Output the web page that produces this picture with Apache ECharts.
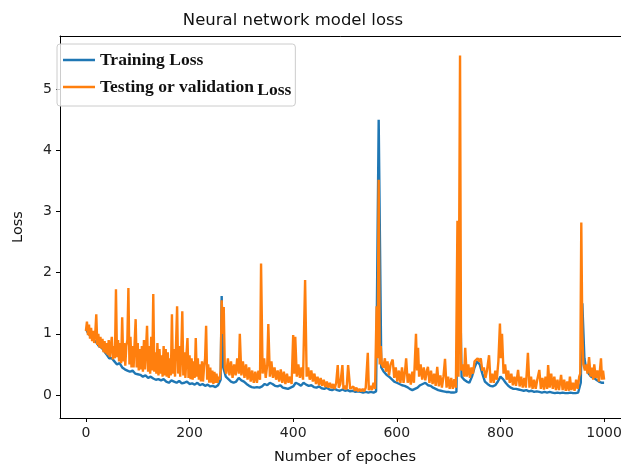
<!DOCTYPE html>
<html>
<head>
<meta charset="utf-8">
<script src="https://cdn.jsdelivr.net/npm/echarts@6/dist/echarts.min.js"></script>
<style>
html,body{margin:0;padding:0;background:#fff;}
#chart{width:621px;height:468px;}
</style>
</head>
<body>
<div id="chart"></div>
<script>
// ---- data ----
const titleText = "Neural network model loss";
const xLabel = "Number of epoches";
const yLabel = "Loss";
const seriesNames = ["Training Loss", "Testing or validation Loss"];

const trainEpochs = [0,5,10,15,20,25,30,35,40,45,50,55,60,65,70,75,80,85,90,95,100,105,110,115,120,125,130,135,140,145,150,155,160,165,170,175,180,185,190,195,200,205,210,215,220,225,230,235,240,245,250,255,260,262,265,270,275,280,285,290,295,300,305,310,315,320,325,330,335,340,345,350,355,360,365,370,375,380,385,390,395,400,405,410,415,420,425,430,435,440,445,450,455,460,465,470,475,480,485,490,495,500,505,510,515,520,525,530,535,540,545,550,555,560,565,570,575,580,585,590,595,600,605,610,615,620,625,630,635,640,645,650,655,660,665,670,675,680,685,690,695,700,705,710,715,720,725,730,735,740,745,750,755,760,765,770,775,780,785,790,795,800,805,810,815,820,825,830,835,840,845,850,855,860,865,870,875,880,885,890,895,900,905,910,915,920,925,930,935,940,945,950,955,958,962,965,970,975,980,985,990,995,1000];
const trainLoss = [1.08,1.0,0.95,0.9,0.86,0.8,0.78,0.72,0.66,0.6,0.6,0.55,0.5,0.52,0.45,0.42,0.4,0.38,0.4,0.35,0.34,0.33,0.3,0.32,0.28,0.3,0.27,0.25,0.26,0.24,0.26,0.22,0.2,0.24,0.22,0.2,0.23,0.19,0.2,0.22,0.18,0.19,0.17,0.2,0.16,0.18,0.15,0.17,0.14,0.15,0.13,0.16,0.25,1.62,0.45,0.3,0.26,0.22,0.2,0.22,0.28,0.24,0.22,0.18,0.15,0.13,0.12,0.13,0.12,0.14,0.18,0.16,0.2,0.18,0.15,0.14,0.16,0.12,0.11,0.1,0.12,0.14,0.2,0.18,0.15,0.2,0.17,0.15,0.16,0.13,0.12,0.14,0.11,0.1,0.12,0.09,0.08,0.1,0.08,0.07,0.09,0.07,0.08,0.06,0.07,0.05,0.06,0.05,0.04,0.05,0.04,0.05,0.04,0.06,4.5,0.45,0.38,0.33,0.3,0.26,0.22,0.2,0.18,0.16,0.15,0.13,0.1,0.08,0.1,0.12,0.16,0.18,0.2,0.16,0.15,0.12,0.1,0.08,0.07,0.06,0.05,0.05,0.04,0.04,0.05,2.8,0.3,0.25,0.22,0.2,0.3,0.45,0.55,0.5,0.35,0.22,0.18,0.15,0.14,0.16,0.22,0.3,0.26,0.2,0.15,0.12,0.1,0.1,0.09,0.08,0.07,0.08,0.06,0.07,0.05,0.06,0.05,0.04,0.05,0.04,0.05,0.04,0.03,0.04,0.03,0.04,0.03,0.03,0.04,0.03,0.03,0.04,0.2,1.5,0.6,0.45,0.35,0.3,0.28,0.25,0.22,0.2,0.2];

// validation loss, early part (epochs 0..262, every 2 epochs)
const valEpochsEarly = [0,2,4,6,8,10,12,14,16,18,20,22,24,26,28,30,32,34,36,38,40,42,44,46,48,50,52,54,56,58,60,62,64,66,68,70,72,74,76,78,80,82,84,86,88,90,92,94,96,98,100,102,104,106,108,110,112,114,116,118,120,122,124,126,128,130,132,134,136,138,140,142,144,146,148,150,152,154,156,158,160,162,164,166,168,170,172,174,176,178,180,182,184,186,188,190,192,194,196,198,200,202,204,206,208,210,212,214,216,218,220,222,224,226,228,230,232,234,236,238,240,242,244,246,248,250,252,254,256,258,260,262];
const valLossEarly = [1.05,1.2,0.98,1.15,0.92,1.1,0.88,1.05,0.85,1.0,1.32,0.82,1.0,0.78,0.95,0.76,0.92,0.7,0.88,0.68,0.85,0.65,0.9,0.62,0.8,0.95,0.58,0.8,0.6,1.73,0.62,0.9,0.55,0.85,0.52,1.27,0.55,0.85,0.48,0.8,0.9,1.75,0.5,0.95,0.45,0.8,0.45,0.85,1.24,0.45,0.85,0.4,0.75,0.42,0.8,0.38,0.9,0.42,0.75,1.13,0.38,0.8,0.35,0.95,0.4,1.65,0.38,0.7,0.35,0.85,0.32,0.75,0.35,0.65,0.3,0.8,0.32,0.75,0.3,0.7,0.28,0.6,0.32,1.32,0.35,0.75,0.3,0.85,1.45,0.35,0.8,0.3,0.7,1.37,0.32,0.7,0.28,0.65,0.93,0.28,0.65,0.26,0.6,0.25,0.55,0.28,0.93,0.3,0.6,0.25,0.5,0.22,0.55,0.22,0.45,0.6,1.13,0.25,0.5,0.2,0.45,0.2,0.4,0.18,0.38,0.2,0.35,0.2,0.3,0.25,0.4,1.55];
// validation loss, later part (epochs 264..1000)
const valEpochsLate = [264,266,268,271,274,277,280,283,286,289,292,295,297,300,303,306,309,312,315,318,321,324,327,330,333,336,338,341,344,347,350,352,355,358,361,364,367,370,373,376,379,382,385,388,391,394,397,400,402,404,407,410,413,416,419,423,426,429,432,435,438,441,444,447,450,453,456,459,462,465,468,471,474,477,480,483,486,488,491,495,497,500,503,506,508,510,513,516,519,522,525,528,531,534,537,540,544,546,549,552,555,558,561,563,565,567,569,571,574,577,579,582,585,588,592,595,598,601,604,607,610,613,616,618,621,624,627,630,633,637,639,641,643,646,649,652,655,658,660,663,666,669,672,675,678,681,684,687,690,693,696,699,702,705,708,711,714,717,719,722,724,727,730,732,735,738,741,744,747,750,753,756,759,762,765,768,771,774,778,781,784,787,790,793,796,799,801,803,806,809,812,815,818,821,824,827,830,834,837,840,843,846,849,853,856,859,862,865,868,871,875,878,881,884,887,890,892,895,898,901,904,907,910,913,917,920,923,926,929,932,934,937,940,943,946,949,952,954,956,958,960,963,966,968,971,974,977,979,981,984,987,990,994,996,998,1000];
const valLossLate = [1.0,1.44,0.45,0.35,0.6,0.32,0.55,0.28,0.5,0.32,0.6,0.35,1.0,0.32,0.55,0.28,0.5,0.25,0.45,0.22,0.4,0.2,0.38,0.2,0.4,0.25,2.15,0.35,0.6,0.28,0.5,1.16,0.3,0.55,0.28,0.45,0.25,0.4,0.22,0.42,0.2,0.38,0.18,0.35,0.2,0.3,0.18,0.98,0.35,0.95,0.3,0.5,0.28,0.45,0.25,1.88,0.3,0.45,0.25,0.4,0.22,0.35,0.18,0.3,0.16,0.28,0.15,0.25,0.13,0.22,0.12,0.2,0.11,0.18,0.1,0.2,0.49,0.12,0.18,0.49,0.1,0.15,0.09,0.49,0.49,0.1,0.09,0.14,0.07,0.12,0.06,0.1,0.06,0.1,0.06,0.12,0.69,0.08,0.15,0.08,0.2,0.1,1.45,0.6,3.52,0.5,0.8,0.5,0.45,0.6,0.38,0.55,0.32,0.5,0.58,0.28,0.45,0.22,0.4,0.2,0.45,0.2,0.4,0.6,0.2,0.35,0.17,0.38,0.2,1.0,0.4,0.77,0.3,0.5,0.25,0.45,0.24,0.4,0.46,0.2,0.4,0.18,0.35,0.15,0.46,0.14,0.32,0.12,0.3,0.59,0.12,0.3,0.1,0.28,0.1,0.26,0.12,2.85,0.3,5.55,0.4,0.5,0.3,0.77,0.3,0.5,0.28,0.45,0.35,0.55,0.57,0.6,0.55,0.6,0.4,0.45,0.28,0.4,0.65,0.2,0.35,0.2,0.4,0.25,0.55,1.17,0.6,1.0,0.35,0.5,0.25,0.4,0.2,0.35,0.16,0.3,0.15,0.41,0.14,0.3,0.12,0.28,0.12,0.69,0.12,0.3,0.1,0.25,0.1,0.25,0.41,0.1,0.28,0.09,0.3,0.1,0.49,0.12,0.35,0.1,0.3,0.08,0.25,0.08,0.33,0.08,0.25,0.07,0.22,0.07,0.3,0.08,0.2,0.07,0.25,0.1,0.3,0.35,2.82,1.0,0.5,0.4,0.5,0.35,0.62,0.3,0.45,0.25,0.5,0.28,0.4,0.22,0.6,0.25,0.4,0.25];

const xTicks = [0,200,400,600,800,1000];
const yTicks = [0,1,2,3,4,5];

// ---- chart ----
const colors = ['#1f77b4', '#ff7f0e'];
const pairs = (xs, ys) => xs.map((x, i) => [x, ys[i]]);
const valData = pairs(valEpochsEarly, valLossEarly).concat(pairs(valEpochsLate, valLossLate));
const chart = echarts.init(document.getElementById('chart'), null, {renderer: 'canvas'});
const tickFont = {fontFamily: 'DejaVu Sans', fontSize: 14, color: '#222'};
const X_MIN = -50, X_MAX = 1050;

chart.setOption({
  animation: false,
  backgroundColor: '#fff',
  title: {
    text: titleText,
    left: 288, top: 7, textAlign: 'center',
    textStyle: {fontFamily: 'DejaVu Sans', fontSize: 16.5, fontWeight: 'normal', color: '#111'}
  },
  legend: {
    data: seriesNames,
    orient: 'vertical',
    left: 57, top: 44,
    padding: [7, 4, 7, 6],
    itemGap: 9,
    itemWidth: 32, itemHeight: 2.5,
    icon: 'rect',
    borderColor: '#ccc', borderWidth: 1, borderRadius: 3,
    backgroundColor: 'rgba(255,255,255,0.8)',
    formatter: function (name) {
      if (name === seriesNames[1]) return '{a|Testing or validation} {b|Loss}';
      return '{a|' + name + '}';
    },
    textStyle: {
      rich: {
        a: {fontFamily: 'Liberation Serif', fontWeight: 'bold', fontSize: 17.5, color: '#111', lineHeight: 20},
        b: {fontFamily: 'Liberation Serif', fontWeight: 'bold', fontSize: 17.5, color: '#111', padding: [6, 0, 0, 0], width: 20}
      }
    }
  },
  grid: {
    left: 60, right: -9, top: 36, bottom: 50,
    show: false, containLabel: false, outerBoundsMode: 'none'
  },
  xAxis: [{
    type: 'value',
    min: X_MIN, max: X_MAX,
    splitNumber: 5,
    name: xLabel, nameLocation: 'middle', nameGap: 32,
    nameTextStyle: {fontFamily: 'DejaVu Sans', fontSize: 14.5, color: '#111'},
    axisLine: {show: true, onZero: false, lineStyle: {color: '#000', width: 1}},
    axisTick: {show: true, length: 4, lineStyle: {color: '#000'}},
    splitLine: {show: false},
    axisLabel: Object.assign({}, tickFont, {
      margin: 8, showMinLabel: false, showMaxLabel: false,
      formatter: v => (xTicks.indexOf(v) >= 0 ? String(v) : '')
    })
  }, {
    type: 'value', position: 'top',
    min: X_MIN, max: X_MAX,
    axisLine: {show: true, onZero: false, lineStyle: {color: '#000', width: 1}},
    axisTick: {show: false}, axisLabel: {show: false}, splitLine: {show: false}
  }],
  yAxis: {
    type: 'value',
    min: -0.376, max: 5.87,
    splitNumber: 6,
    name: yLabel, nameLocation: 'middle', nameGap: 34, nameRotate: 90,
    nameTextStyle: {fontFamily: 'DejaVu Sans', fontSize: 14.5, color: '#111'},
    axisLine: {show: true, onZero: false, lineStyle: {color: '#000', width: 1}},
    axisTick: {show: true, length: 4, lineStyle: {color: '#000'}},
    splitLine: {show: false},
    axisLabel: Object.assign({}, tickFont, {
      margin: 8, showMinLabel: false, showMaxLabel: false,
      formatter: v => (yTicks.indexOf(v) >= 0 ? String(v) : '')
    })
  },
  series: [
    {
      name: seriesNames[0], type: 'line', xAxisIndex: 0, data: pairs(trainEpochs, trainLoss),
      showSymbol: false, symbol: 'none', color: colors[0],
      lineStyle: {width: 2.4, color: colors[0]}, z: 2
    },
    {
      name: seriesNames[1], type: 'line', xAxisIndex: 0, data: valData,
      showSymbol: false, symbol: 'none', color: colors[1],
      lineStyle: {width: 2.4, color: colors[1]}, z: 3
    }
  ]
});
</script>
</body>
</html>
